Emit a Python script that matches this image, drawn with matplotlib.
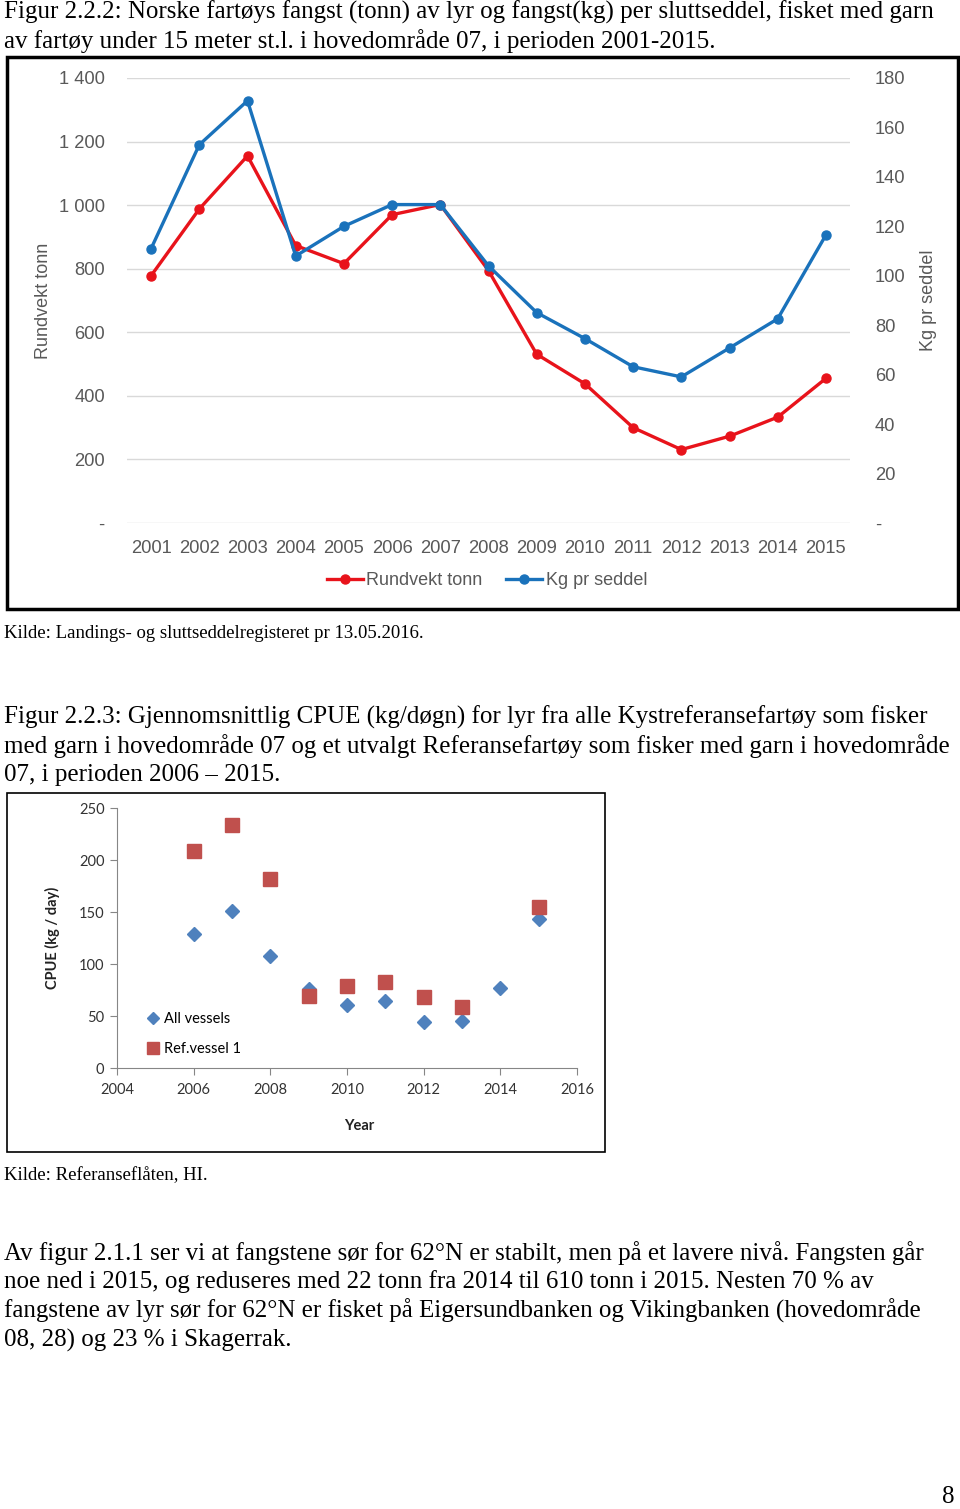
import matplotlib
matplotlib.use("Agg")
import matplotlib.pyplot as plt
from matplotlib.patches import Rectangle

# --- data, figur 2.2.2 ---
aar = ["2001", "2002", "2003", "2004", "2005", "2006", "2007", "2008",
       "2009", "2010", "2011", "2012", "2013", "2014", "2015"]
rundvekt_tonn = [778, 988, 1155, 873, 816, 970, 1002, 794,
                 531, 438, 300, 231, 273, 333, 455]
kg_pr_seddel = [111.0, 153.0, 170.8, 108.0, 120.0, 128.8, 128.8, 104.0,
                85.1, 74.6, 63.2, 59.1, 70.8, 82.6, 116.5]
venstre_ticks = [0, 200, 400, 600, 800, 1000, 1200, 1400]
venstre_labels = ["-", "200", "400", "600", "800", "1 000", "1 200", "1 400"]
hoyre_ticks = [0, 20, 40, 60, 80, 100, 120, 140, 160, 180]
hoyre_labels = ["-", "20", "40", "60", "80", "100", "120", "140", "160", "180"]

# --- data, figur 2.2.3 ---
aar_alle = [2006, 2007, 2008, 2009, 2010, 2011, 2012, 2013, 2014, 2015]
cpue_alle = [129, 150.7, 108, 75.5, 61, 64.3, 44.3, 45.3, 77.4, 143.3]
aar_ref = [2006, 2007, 2008, 2009, 2010, 2011, 2012, 2013, 2015]
cpue_ref = [208.2, 233.6, 181.6, 69.1, 78.7, 82.6, 67.8, 58.2, 154.6]

W, H = 960, 1509
fig = plt.figure(figsize=(W / 100, H / 100), dpi=100)


def px(x0, y0, x1, y1):
    # piksel-boks -> figurkoordinater
    return [x0 / W, 1 - y1 / H, (x1 - x0) / W, (y1 - y0) / H]


def tekst(x, y, s, size=18):
    fig.text(x / W, 1 - y / H, s, fontsize=size, family="Liberation Serif",
             va="center", ha="left", color="black")


# bildetekster
tekst(4, 12, "Figur 2.2.2: Norske fartøys fangst (tonn) av lyr og fangst(kg) per sluttseddel, fisket med garn")
tekst(4, 41, "av fartøy under 15 meter st.l. i hovedområde 07, i perioden 2001-2015.")
tekst(4, 633, "Kilde: Landings- og sluttseddelregisteret pr 13.05.2016.", 13.5)
tekst(4, 717, "Figur 2.2.3: Gjennomsnittlig CPUE (kg/døgn) for lyr fra alle Kystreferansefartøy som fisker")
tekst(4, 746, "med garn i hovedområde 07 og et utvalgt Referansefartøy som fisker med garn i hovedområde")
tekst(4, 775, "07, i perioden 2006 – 2015.")
tekst(4, 1176, "Kilde: Referanseflåten, HI.", 13.5)
tekst(4, 1253, "Av figur 2.1.1 ser vi at fangstene sør for 62°N er stabilt, men på et lavere nivå. Fangsten går")
tekst(4, 1282, "noe ned i 2015, og reduseres med 22 tonn fra 2014 til 610 tonn i 2015. Nesten 70 % av")
tekst(4, 1311, "fangstene av lyr sør for 62°N er fisket på Eigersundbanken og Vikingbanken (hovedområde")
tekst(4, 1340, "08, 28) og 23 % i Skagerrak.")
tekst(942, 1497, "8")

# rammer
fig.patches.append(Rectangle((7 / W, 1 - 609 / H), 951 / W, 552 / H, transform=fig.transFigure,
                             fill=False, lw=2.5, ec="black"))
fig.patches.append(Rectangle((7 / W, 1 - 1152 / H), 598 / W, 359 / H, transform=fig.transFigure,
                             fill=False, lw=1.2, ec="black"))

# ---- figur 2.2.2 ----
grå = "#595959"
rød = "#E8131B"
blå = "#1A72BB"
ax = fig.add_axes(px(127, 78, 850, 523))
x = list(range(len(aar)))
l1, = ax.plot(x, rundvekt_tonn, color=rød, lw=2.4, marker="o", ms=6.5, label="Rundvekt tonn")
ax.set_xlim(-0.5, len(aar) - 0.5)
ax.set_ylim(0, 1400)
ax.set_yticks(venstre_ticks, venstre_labels)
ax.set_xticks(x, aar)
ax.grid(axis="y", color="#D9D9D9", lw=1)
ax.set_axisbelow(True)
for s in ax.spines.values():
    s.set_visible(False)
ax.tick_params(axis="y", length=0, pad=16, labelsize=13.2, labelcolor=grå, labelfontfamily="Liberation Sans")
ax.tick_params(axis="x", length=0, pad=12, labelsize=13.2, labelcolor=grå, labelfontfamily="Liberation Sans")
ax.set_ylabel("Rundvekt tonn", fontsize=13, color=grå, family="Liberation Sans")
ax.yaxis.set_label_coords(-0.104, 0.5)

ax2 = ax.twinx()
l2, = ax2.plot(x, kg_pr_seddel, color=blå, lw=2.4, marker="o", ms=6.5, label="Kg pr seddel")
ax2.set_ylim(0, 180)
ax2.set_yticks(hoyre_ticks, hoyre_labels)
for s in ax2.spines.values():
    s.set_visible(False)
ax2.tick_params(axis="y", length=0, pad=18, labelsize=13.2, labelcolor=grå, labelfontfamily="Liberation Sans")
ax2.set_ylabel("Kg pr seddel", fontsize=13, color=grå, family="Liberation Sans", rotation=90)
ax2.yaxis.set_label_coords(1.097, 0.5)

fig.legend(handles=[l1, l2], loc="center", bbox_to_anchor=(487 / W, 1 - 581 / H), ncol=2,
           frameon=False, prop={"family": "Liberation Sans", "size": 13}, labelcolor=grå,
           handlelength=2.0, handletextpad=0.2, columnspacing=1.3)

# ---- figur 2.2.3 ----
akse = "#868686"
bx = fig.add_axes(px(117, 808, 577, 1068))
d1, = bx.plot(aar_alle, cpue_alle, ls="none", marker="D", ms=7, color="#4F81BD", label="All vessels")
d2, = bx.plot(aar_ref, cpue_ref, ls="none", marker="s", ms=9.5, color="#C0504D", label="Ref.vessel 1")
bx.set_xlim(2004, 2016)
bx.set_ylim(0, 250)
bx.set_xticks(range(2004, 2017, 2))
bx.set_yticks(range(0, 251, 50))
bx.spines["top"].set_visible(False)
bx.spines["right"].set_visible(False)
bx.spines["left"].set_color(akse)
bx.spines["bottom"].set_color(akse)
bx.tick_params(direction="out", length=5, color=akse, labelsize=10.5, labelcolor="#333333",
               labelfontfamily="Lato", pad=4)
bx.tick_params(axis="x", pad=6)
bx.set_xlabel("Year", fontsize=10.5, fontweight="bold", family="Lato", color="#222222")
bx.xaxis.set_label_coords(0.526, -0.196)
bx.set_ylabel("CPUE (kg / day)", fontsize=10.5, fontweight="bold", family="Lato", color="#222222")
bx.yaxis.set_label_coords(-0.125, 0.5)
bx.legend(handles=[d1, d2], loc="upper left", bbox_to_anchor=(149 / W, 1 - 1012 / H),
          bbox_transform=fig.transFigure, frameon=False, prop={"family": "Lato", "size": 10.5},
          handlelength=0.6, handletextpad=0.4, labelspacing=1.1, borderaxespad=0, borderpad=0,
          markerscale=0.9)

fig.savefig("out.png", dpi=100)
